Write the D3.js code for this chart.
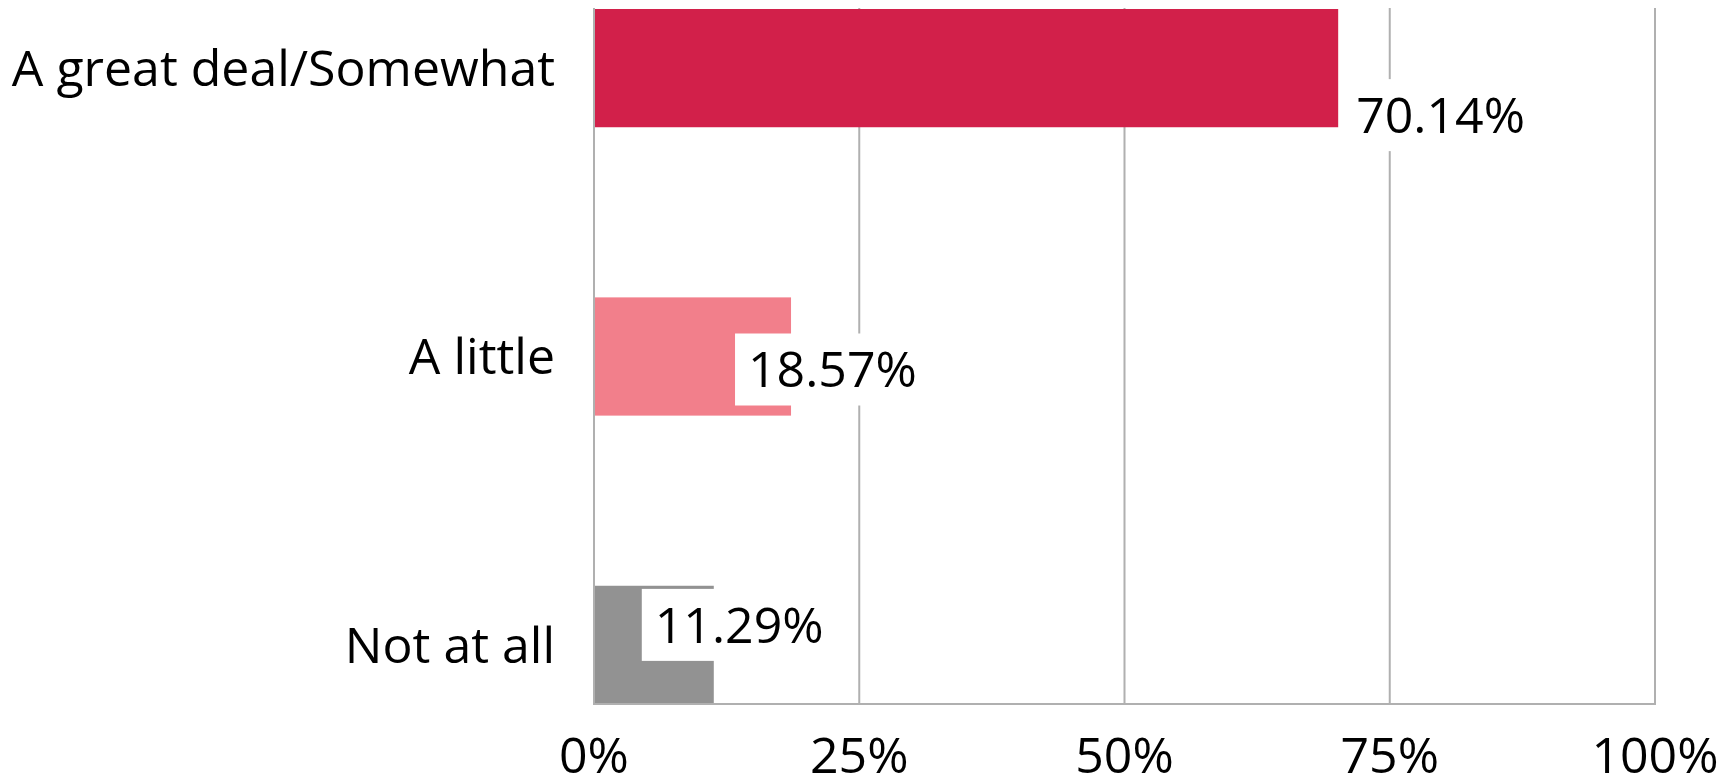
<!DOCTYPE html>
<html>
<head>
<meta charset="utf-8">
<script src="https://cdn.jsdelivr.net/npm/d3@7"></script>
<style>
  html, body { margin: 0; padding: 0; background: #ffffff; }
  svg text { font-family: "Open Sans", "DejaVu Sans", sans-serif; fill: #000; }
</style>
</head>
<body>
<svg id="chart" width="1736" height="778"></svg>
<script>
// Survey answers and their shares (percent)
const categories = ["A great deal/Somewhat", "A little", "Not at all"];
const values = [70.14, 18.57, 11.29];
const barColors = ["#d2204a", "#f27f8b", "#929292"];
const tickValues = [0, 25, 50, 75, 100];
const tickLabels = ["0%", "25%", "50%", "75%", "100%"];

// Layout
const W = 1736, H = 778;
const plot = { left: 594, right: 1655, top: 8, bottom: 704 };
const fontSize = 50;
const capH = fontSize * 0.714;
const gridColor = "#b0b0b0";

// Where each value label sits relative to the end of its bar
const labelNudge = [
  { dx: 18, dy: 47 },
  { dx: -43, dy: 13 },
  { dx: -59, dy: -20 }
];

const svg = d3.select("#chart");

const x = d3.scaleLinear().domain([0, 100]).range([plot.left, plot.right]);
const y = d3.scaleBand().domain(categories).range([plot.top + 1, plot.bottom])
  .paddingInner(0.59).paddingOuter(0);

// Vertical gridlines
svg.append("g").selectAll("line")
  .data(tickValues)
  .join("line")
  .attr("x1", d => x(d)).attr("x2", d => x(d))
  .attr("y1", plot.top).attr("y2", plot.bottom)
  .attr("stroke", gridColor).attr("stroke-width", 2);

// Bars
svg.append("g").selectAll("rect")
  .data(categories)
  .join("rect")
  .attr("x", x(0))
  .attr("y", d => y(d))
  .attr("width", (d, i) => x(values[i]) - x(0))
  .attr("height", y.bandwidth())
  .attr("fill", (d, i) => barColors[i]);

// Frame: zero axis and bottom edge
svg.append("line")
  .attr("x1", x(0)).attr("x2", x(0))
  .attr("y1", plot.top).attr("y2", plot.bottom)
  .attr("stroke", gridColor).attr("stroke-width", 2);
svg.append("line")
  .attr("x1", x(0) - 1).attr("x2", x(100) + 1)
  .attr("y1", plot.bottom).attr("y2", plot.bottom)
  .attr("stroke", gridColor).attr("stroke-width", 2);

// Category labels
svg.append("g").selectAll("text")
  .data(categories)
  .join("text")
  .attr("x", plot.left - 39)
  .attr("y", d => y(d) + y.bandwidth() / 2 + capH / 2)
  .attr("text-anchor", "end")
  .attr("font-size", fontSize)
  .text(d => d);

// Value labels with white backing boxes
const fmt = v => v.toFixed(2) + "%";
const labels = svg.append("g").selectAll("g")
  .data(categories)
  .join("g");

labels.each(function (d, i) {
  const g = d3.select(this);
  const tx = x(values[i]) + labelNudge[i].dx;
  const cy = y(d) + y.bandwidth() / 2 + labelNudge[i].dy;
  const text = g.append("text")
    .attr("x", tx)
    .attr("y", cy + capH / 2)
    .attr("font-size", fontSize)
    .text(fmt(values[i]));
  const w = text.node().getComputedTextLength();
  g.insert("rect", "text")
    .attr("x", tx - 13)
    .attr("y", cy - 36)
    .attr("width", w + 26)
    .attr("height", 72)
    .attr("fill", "#ffffff");
});

// Tick labels along the bottom
svg.append("g").selectAll("text")
  .data(tickValues)
  .join("text")
  .attr("x", d => x(d))
  .attr("y", 773)
  .attr("text-anchor", "middle")
  .attr("font-size", fontSize)
  .text((d, i) => tickLabels[i]);
</script>
</body>
</html>
